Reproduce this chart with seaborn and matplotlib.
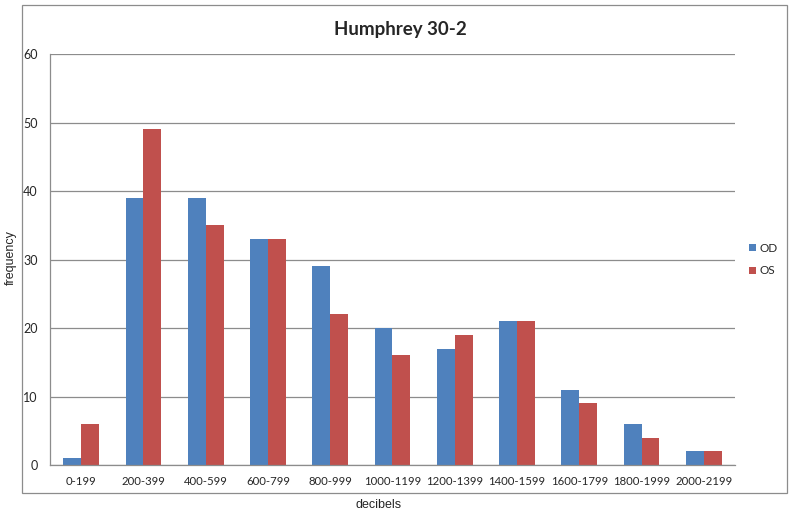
import pandas as pd
import matplotlib.pyplot as plt
import seaborn as sns
from matplotlib.patches import Rectangle

bins = ['0-199', '200-399', '400-599', '600-799', '800-999', '1000-1199',
        '1200-1399', '1400-1599', '1600-1799', '1800-1999', '2000-2199']
od_counts = [1, 39, 39, 33, 29, 20, 17, 21, 11, 6, 2]
os_counts = [6, 49, 35, 33, 22, 16, 19, 21, 9, 4, 2]
y_ticks = [0, 10, 20, 30, 40, 50, 60]

df = pd.DataFrame({
    'decibels': bins * 2,
    'frequency': od_counts + os_counts,
    'eye': ['OD'] * len(bins) + ['OS'] * len(bins),
})

sns.set_style('white')
plt.rcParams['font.family'] = ['Lato', 'DejaVu Sans']

fig = plt.figure(figsize=(7.95, 5.16), dpi=100)
ax = fig.add_axes([0.0629, 0.0988, 0.8616, 0.7965])

sns.barplot(data=df, x='decibels', y='frequency', hue='eye', order=bins,
            palette={'OD': '#4F81BD', 'OS': '#C0504D'}, width=0.575, gap=0,
            saturation=1, linewidth=0, ax=ax, legend=True)

ax.set_ylim(0, 60)
ax.set_xlim(-0.5, len(bins) - 0.5)
ax.set_yticks(y_ticks)
ax.yaxis.grid(True, color='#8c8c8c', lw=0.9)
ax.set_axisbelow(True)
for s in ['top', 'right']:
    ax.spines[s].set_visible(False)
for s in ['left', 'bottom']:
    ax.spines[s].set_color('#8c8c8c')
    ax.spines[s].set_linewidth(0.9)
ax.tick_params(axis='y', length=4, color='#8c8c8c', labelsize=9, pad=5)
ax.tick_params(axis='x', length=0, labelsize=8.2, pad=8)
ax.set_xlabel('')
ax.set_ylabel('')

fig.text(0.503, 0.943, 'Humphrey 30-2', ha='center', va='center',
         fontsize=13.5, fontweight='bold')
fig.text(0.013, 0.50, 'frequency', rotation=90, ha='center', va='center',
         fontsize=9, family='Liberation Sans')
fig.text(0.476, 0.021, 'decibels', ha='center', va='center', fontsize=9,
         family='Liberation Sans',
         bbox=dict(facecolor='white', edgecolor='none', pad=3))

fig.patches.append(Rectangle((0.0277, 0.0446), 0.962, 0.946,
                             transform=fig.transFigure, fill=False,
                             edgecolor='#8c8c8c', lw=0.9, zorder=0))

ax.legend(loc='center left', bbox_to_anchor=(1.005, 0.5), frameon=False,
          handlelength=0.55, handleheight=0.55, handletextpad=0.3,
          labelspacing=1.0, fontsize=8.5)

plt.savefig('out.png', dpi=100)
plt.close()
